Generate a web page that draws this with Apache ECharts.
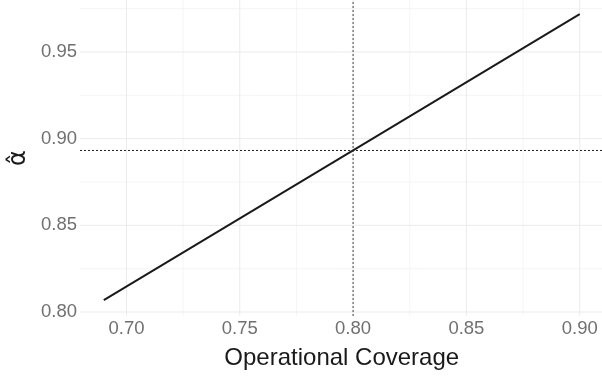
<!DOCTYPE html>
<html>
<head>
<meta charset="utf-8">
<script src="https://cdn.jsdelivr.net/npm/echarts@6/dist/echarts.min.js"></script>
<style>html,body{margin:0;padding:0;background:#fff}#c{width:602px;height:379px}</style>
</head>
<body>
<div id="c"></div>
<script>
// Data
var coverage = [0.69, 0.80, 0.90];
var alphaHat = [0.8068, 0.8933, 0.9719];
var xMajorTicks = [0.70, 0.75, 0.80, 0.85, 0.90];
var xMinorTicks = [0.725, 0.775, 0.825, 0.875];
var yMajorTicks = [0.80, 0.85, 0.90, 0.95];
var yMinorTicks = [0.825, 0.875, 0.925, 0.975];
var refX = 0.80;
var refY = 0.8932;

var X_MIN = 0.6795, X_MAX = 0.9105, Y_MIN = 0.7977, Y_MAX = 0.980;
var font = '"Liberation Sans", Arial, Helvetica, sans-serif';
var chart = echarts.init(document.getElementById('c'), null, {renderer: 'canvas'});

function hLine(y, style, z) {
  return {type: 'line', data: [[X_MIN, y], [X_MAX, y]], symbol: 'none', silent: true,
          lineStyle: style, z: z, animation: false};
}
function vLine(x, style, z) {
  return {type: 'line', data: [[x, Y_MIN], [x, Y_MAX]], symbol: 'none', silent: true,
          lineStyle: style, z: z, animation: false};
}
var minorStyle = {color: '#f1f1f1', width: 0.7};
var majorStyle = {color: '#ebebeb', width: 1};

var series = [];
xMinorTicks.forEach(function (v) { series.push(vLine(v, minorStyle, 1)); });
yMinorTicks.forEach(function (v) { series.push(hLine(v, minorStyle, 1)); });
xMajorTicks.forEach(function (v) { series.push(vLine(v, majorStyle, 1)); });
yMajorTicks.forEach(function (v) { series.push(hLine(v, majorStyle, 1)); });
series.push(vLine(refX, {color: '#444', width: 1, type: [2, 2]}, 3));
series.push(hLine(refY, {color: '#222', width: 1, type: [2, 2]}, 3));
series.push({
  type: 'line', z: 5, showSymbol: false, symbol: 'none', animation: false,
  lineStyle: {color: '#1a1a1a', width: 2},
  data: coverage.map(function (x, i) { return [x, alphaHat[i]]; })
});

chart.setOption({
  animation: false,
  backgroundColor: '#ffffff',
  grid: {left: 80, right: -1.5, top: 0, bottom: 63, containLabel: false, outerBoundsMode: 'none'},
  xAxis: {
    type: 'value', min: X_MIN, max: X_MAX,
    axisLine: {show: false}, axisTick: {show: false}, splitLine: {show: false},
    axisLabel: {
      customValues: xMajorTicks, margin: 3,
      color: '#707070', fontSize: 18.5, fontFamily: font,
      formatter: function (v) { return v.toFixed(2); }
    },
    name: 'Operational Coverage', nameLocation: 'middle', nameGap: 30,
    nameTextStyle: {color: '#1a1a1a', fontSize: 24, fontFamily: font}
  },
  yAxis: {
    type: 'value', min: Y_MIN, max: Y_MAX,
    axisLine: {show: false}, axisTick: {show: false}, splitLine: {show: false},
    axisLabel: {
      customValues: yMajorTicks, margin: 3,
      color: '#707070', fontSize: 18.5, fontFamily: font,
      formatter: function (v) { return v.toFixed(2); }
    }
  },
  graphic: [
    {type: 'group', x: 7, y: 166, rotation: Math.PI / 2,
     children: [{type: 'text', x: 0, y: 0,
       style: {text: '\u03B1\u0302', fill: '#1a1a1a', fontSize: 24, fontFamily: '"DejaVu Sans", sans-serif'}}]}
  ],
  series: series
});
</script>
</body>
</html>
